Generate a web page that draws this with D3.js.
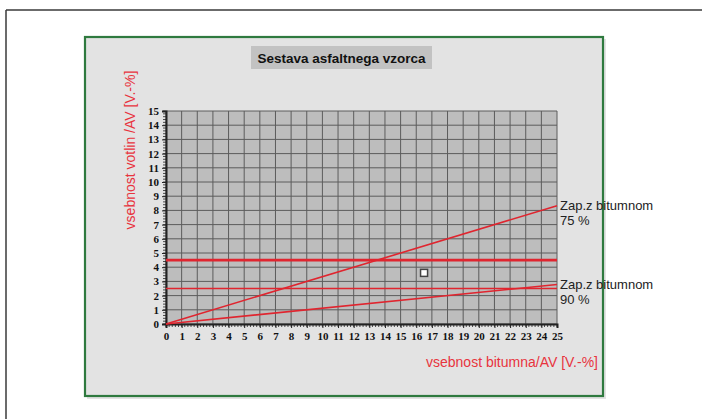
<!DOCTYPE html>
<html>
<head>
<meta charset="utf-8">
<script src="https://cdn.jsdelivr.net/npm/d3@7"></script>
<style>
  html, body { margin: 0; padding: 0; background: #fff; }
  svg { display: block; }
</style>
</head>
<body>
<svg id="chart" width="702" height="419"></svg>
<script>
// ---- data ----
const title = "Sestava asfaltnega vzorca";
const xLabel = "vsebnost bitumna/AV [V.-%]";
const yLabel = "vsebnost votlin /AV [V.-%]";
const xTicks = d3.range(0, 26);      // 0..25
const yTicks = d3.range(0, 16);      // 0..15
const hLineValues = [4.5, 2.5];      // horizontal limit lines (AV)
const hLineWidths = [2.6, 1.4];
const fillLineNames = ["Zap.z bitumnom", "Zap.z bitumnom"];
const fillLinePct = ["75 %", "90 %"];
const fillLineStart = [[0, 0], [0, 0]];
const fillLineEnd = [[25, 8.33], [25, 2.78]];
const samplePoint = [16.5, 3.6];

// ---- drawing ----
const svg = d3.select("#chart");
const x = d3.scaleLinear().domain([0, 25]).range([166, 557]);
const y = d3.scaleLinear().domain([0, 15]).range([324, 111]);

// outer frame
svg.append("line").attr("x1", 6).attr("x2", 702).attr("y1", 10).attr("y2", 10)
  .attr("stroke", "#3a3a3a").attr("stroke-width", 1.5);
svg.append("line").attr("x1", 6).attr("x2", 6).attr("y1", 10).attr("y2", 419)
  .attr("stroke", "#3a3a3a").attr("stroke-width", 1.5);

// green panel (with soft shadow)
svg.append("rect").attr("x", 87).attr("y", 39).attr("width", 519).attr("height", 360)
  .attr("fill", "#c8c8c8").attr("opacity", 0.5);
svg.append("rect").attr("x", 85).attr("y", 37).attr("width", 518).attr("height", 359)
  .attr("fill", "#e3e3e3").attr("stroke", "#2f7a3f").attr("stroke-width", 2.2);

// title
svg.append("rect").attr("x", 251).attr("y", 46).attr("width", 181).attr("height", 23)
  .attr("fill", "#c2c2c2");
svg.append("text").attr("x", 341.5).attr("y", 62.5)
  .attr("text-anchor", "middle")
  .attr("font-family", "Liberation Sans, Arial, sans-serif")
  .attr("font-weight", "bold").attr("font-size", 13.5)
  .attr("fill", "#111").text(title);

// plot background
svg.append("rect").attr("x", x(0)).attr("y", y(15))
  .attr("width", x(25) - x(0)).attr("height", y(0) - y(15))
  .attr("fill", "#bdbdbd");

// grid
svg.append("g").selectAll("line").data(xTicks).join("line")
  .attr("x1", d => x(d)).attr("x2", d => x(d))
  .attr("y1", y(15)).attr("y2", y(0))
  .attr("stroke", "#5c5c5c").attr("stroke-width", 1);
svg.append("g").selectAll("line").data(yTicks).join("line")
  .attr("x1", x(0)).attr("x2", x(25))
  .attr("y1", d => y(d)).attr("y2", d => y(d))
  .attr("stroke", "#5c5c5c").attr("stroke-width", 1);

// axes with minor ticks
const minorX = d3.range(0, 25.001, 0.2);
const minorY = d3.range(0, 15.001, 0.2);
const gx = svg.append("g").attr("transform", `translate(0,${y(0)})`);
gx.selectAll("line.minor").data(minorX).join("line").attr("class", "minor")
  .attr("x1", d => x(d)).attr("x2", d => x(d)).attr("y1", 0).attr("y2", 3)
  .attr("stroke", "#222").attr("stroke-width", 0.8);
gx.call(d3.axisBottom(x).tickValues(xTicks).tickSize(4).tickFormat(d3.format("d")))
  .call(g => g.select(".domain").attr("stroke", "#222").attr("stroke-width", 2))
  .call(g => g.selectAll(".tick line").attr("stroke", "#222"))
  .call(g => g.selectAll(".tick text")
    .attr("font-family", "Liberation Serif, Times New Roman, serif")
    .attr("font-weight", "bold").attr("font-size", 11).attr("fill", "#111")
    .attr("dy", "0.85em"));

const gy = svg.append("g").attr("transform", `translate(${x(0)},0)`);
gy.selectAll("line.minor").data(minorY).join("line").attr("class", "minor")
  .attr("x1", -3).attr("x2", 0).attr("y1", d => y(d)).attr("y2", d => y(d))
  .attr("stroke", "#222").attr("stroke-width", 0.8);
gy.call(d3.axisLeft(y).tickValues(yTicks).tickSize(4).tickFormat(d3.format("d")))
  .call(g => g.select(".domain").attr("stroke", "#222").attr("stroke-width", 2))
  .call(g => g.selectAll(".tick line").attr("stroke", "#222"))
  .call(g => g.selectAll(".tick text")
    .attr("font-family", "Liberation Serif, Times New Roman, serif")
    .attr("font-weight", "bold").attr("font-size", 11).attr("fill", "#111"));

// horizontal limit lines
svg.append("g").selectAll("line").data(hLineValues).join("line")
  .attr("x1", x(0)).attr("x2", x(25))
  .attr("y1", d => y(d)).attr("y2", d => y(d))
  .attr("stroke", "#e0252f").attr("stroke-width", (d, i) => hLineWidths[i]);

// bitumen fill lines
const line = d3.line().x(d => x(d[0])).y(d => y(d[1]));
fillLineStart.forEach((s, i) => {
  svg.append("path").attr("d", line([s, fillLineEnd[i]]))
    .attr("fill", "none").attr("stroke", "#e0252f").attr("stroke-width", 1.6);
  const ex = x(fillLineEnd[i][0]) + 3;
  const ey = y(fillLineEnd[i][1]);
  const t = svg.append("text")
    .attr("font-family", "Liberation Sans, Arial, sans-serif")
    .attr("font-size", 13).attr("fill", "#222");
  t.append("tspan").attr("x", ex).attr("y", ey + 4).text(fillLineNames[i]);
  t.append("tspan").attr("x", ex).attr("y", ey + 19).text(fillLinePct[i]);
});

// sample point
svg.append("rect")
  .attr("x", x(samplePoint[0]) - 3.5).attr("y", y(samplePoint[1]) - 3.5)
  .attr("width", 7).attr("height", 7)
  .attr("fill", "#fff").attr("stroke", "#444").attr("stroke-width", 1.5);

// axis titles
svg.append("text").attr("x", 598).attr("y", 367)
  .attr("text-anchor", "end")
  .attr("font-family", "Liberation Sans, Arial, sans-serif")
  .attr("font-size", 14).attr("fill", "#e8343e").text(xLabel);
svg.append("text")
  .attr("transform", "translate(135,150) rotate(-90)")
  .attr("text-anchor", "middle")
  .attr("font-family", "Liberation Sans, Arial, sans-serif")
  .attr("font-size", 14).attr("fill", "#e8343e").text(yLabel);
</script>
</body>
</html>
